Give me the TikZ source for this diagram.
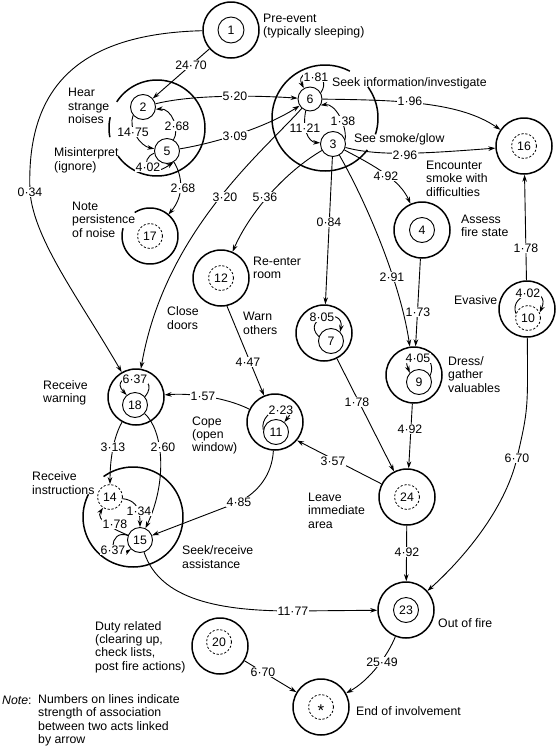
\documentclass[tikz,border=0pt]{standalone}
\usepackage{fontspec}
\setmainfont{Liberation Sans}
\usetikzlibrary{arrows.meta}
\newcommand\lab{\fontsize{12.3}{13.4}\selectfont}
\begin{document}
\begin{tikzpicture}[x=1pt,y=-1pt,
  outer/.style={circle,draw,line width=1.5pt,minimum size=56pt,inner sep=0pt},
  ghost/.style={circle,minimum size=56pt,inner sep=0pt},
  inner/.style={circle,draw,line width=0.9pt,minimum size=25pt,inner sep=0pt,font=\lab},
  dinner/.style={inner,dash pattern=on 2.2pt off 1.8pt,line width=0.8pt},
  edge/.style={line width=0.9pt,-{Stealth[length=7pt,width=4.6pt]}},
  bigarc/.style={line width=1.5pt},
  num/.style={fill=white,inner sep=1pt,font=\lab},
  txt/.style={align=left,anchor=west,inner sep=0pt,font=\lab}]
\useasboundingbox (0,0) rectangle (557,747);

% ---------- circles ----------
\node[outer] (n1o) at (231,30) {};
\node[inner,minimum size=26pt] (n1) at (231,30) {1};
\node[inner] (n2) at (143,107) {2};
\node[inner] (n5) at (167,151) {5};
\node[inner,minimum size=24pt] (n6) at (310,99) {6};
\node[inner] (n3) at (333,144) {3};
\node[outer] (n16o) at (524,146) {};
\node[dinner] (n16) at (524,146) {16};
\node[outer] (n4o) at (422,230) {};
\node[inner] (n4) at (422,230) {4};
\node[ghost] (n17o) at (150,236) {};
\node[dinner] (n17) at (150,236) {17};
\node[outer] (n12o) at (221,278) {};
\node[dinner] (n12) at (221,278) {12};
\node[outer] (n7o) at (324,333) {};
\node[inner] (n7) at (331,341) {7};
\node[outer] (n10o) at (527,309) {};
\node[dinner] (n10) at (528,318) {10};
\node[outer] (n9o) at (414,375) {};
\node[inner] (n9) at (419,382) {9};
\node[outer] (n18o) at (136,397) {};
\node[inner] (n18) at (135,405) {18};
\node[outer] (n11o) at (275,422) {};
\node[inner] (n11) at (276,432) {11};
\node[outer] (n24o) at (407,497) {};
\node[dinner] (n24) at (407,497) {24};
\node[dinner] (n14) at (110,497) {14};
\node[inner] (n15) at (140,540) {15};
\node[outer] (n23o) at (406,610) {};
\node[inner] (n23) at (406,610) {23};
\node[outer] (n20o) at (220,646) {};
\node[dinner] (n20) at (219,642) {20};
\node[outer] (nEo) at (321,707) {};
\node[dinner] (nE) at (321,707) {};
\node[font=\fontsize{17}{17}\selectfont,inner sep=0pt,anchor=base] (ast) at (321,716.8) {*};

% ---------- partial big circles ----------
\draw[bigarc] plot[domain=213:504,samples=90,variable=\t] ({157+48*cos(\t)},{128+48*sin(\t)});
\draw[bigarc] plot[domain=169:193,samples=10,variable=\t] ({157+48*cos(\t)},{128+48*sin(\t)});
\draw[bigarc] plot[domain=37:298,samples=90,variable=\t] ({325+53*cos(\t)},{118+53*sin(\t)});
\draw[bigarc] plot[domain=324:378,samples=20,variable=\t] ({325+53*cos(\t)},{118+53*sin(\t)});
\draw[bigarc] plot[domain=237:556,samples=90,variable=\t] ({150+28*cos(\t)},{236+28*sin(\t)});
\draw[bigarc] plot[domain=234:567,samples=100,variable=\t] ({133+50*cos(\t)},{517+50*sin(\t)});

% ---------- connectors ----------
\draw[edge] (n1o) -- (n2);
\draw[edge] (n1o) .. controls (70,34) and (26,95) .. (30,192) .. controls (34,240) and (80,300) .. (n18o);
\draw[edge] (n2) .. controls (190,95) and (250,95) .. (n6);
\draw[edge] (n5) .. controls (215,143) and (265,128) .. (n6);
\draw[edge] (n2.220) .. controls (128,128) and (140,146) .. (n5.170);
\draw[edge] (n5.60) .. controls (180,130) and (172,108) .. (n2.-10);
\draw[edge] (n5.190) .. controls (140,158) and (145,182) .. (n5.-60);
\draw[edge] (n5) .. controls (182,175) and (185,195) .. (n17o);
\draw[edge] (n6.30) .. controls (335,72) and (293,66) .. (n6.120);
\draw[edge] (n6.250) .. controls (302,128) and (308,142) .. (n3.175);
\draw[edge] (n3.20) .. controls (347,125) and (335,103) .. (n6.-30);
\draw[edge] (n6) .. controls (400,100) and (460,102) .. (n16o);
\draw[edge] (n3) .. controls (380,157) and (430,153) .. (n16o);
\draw[edge] (n3) .. controls (375,166) and (400,180) .. (n4o);
\draw[edge] (n3) .. controls (285,172) and (250,212) .. (n12o);
\draw[edge] (n6) .. controls (265,150) and (165,230) .. (n18o);
\draw[edge] (n3) -- (n7o);
\draw[edge] (n3) .. controls (365,200) and (400,280) .. (n9o);
\draw[edge] (n4o) -- (n9o);
\draw[edge] (n10o) -- (n16o);
\draw[edge] (n10.160) .. controls (508,292) and (552,285) .. (n10.25);
\draw[edge] (n10o) .. controls (528,410) .. (517,458) .. controls (505,510) and (462,560) .. (n23o);
\draw[edge] (n7.160) .. controls (300,318) and (345,306) .. (n7.45);
\draw[edge] (n9.30) .. controls (440,352) and (398,345) .. (n9.135);
\draw[edge] (n12o.-78) -- (n11o);
\draw[edge] (n18.40) .. controls (165,372) and (105,372) .. (n18.130);
\draw[edge] (n11o) .. controls (225,397) and (190,393) .. (n18o);
\draw[edge] (n11.170) .. controls (258,408) and (306,395) .. (n11.50);
\draw[edge] (n7o) -- (n24o);
\draw[edge] (n9o) -- (n24o);
\draw[edge] (n24o) -- (n11o.-40);
\draw[edge] (n11o) .. controls (272,475) and (258,492) .. (239,502) -- (n15);
\draw[edge] (n18o) .. controls (112,440) and (110,465) .. (n14);
\draw[edge] (n18) .. controls (163,430) and (168,480) .. (n15);
\draw[edge] (n14) .. controls (133,500) and (140,505) .. (n15);
\draw[edge] (n15) .. controls (115,530) and (95,520) .. (n14);
\draw[edge] (n15) .. controls (108,528) and (108,565) .. (n15.south west);
\draw[edge] (n24o) -- (n23o);
\draw[edge] (n15) .. controls (160,600) and (220,611) .. (293,611) -- (n23o);
\draw[edge] (n23o) .. controls (388,655) and (370,680) .. (nEo);
\draw[edge] (n20o) -- (nEo);

% ---------- connector labels ----------
\node[num] (w1) at (191,65) {24·70};
\node[num] (w2) at (235,96) {5·20};
\node[num] (w3) at (133,132) {14·75};
\node[num] (w4) at (177,126) {2·68};
\node[num] (w5) at (235,136) {3·09};
\node[num] (w6) at (148,167) {4·02};
\node[num] (w7) at (183,188) {2·68};
\node[num] (w8) at (30,192) {0·34};
\node[num] (w9) at (225,197) {3·20};
\node[num] (w10) at (265,197) {5·36};
\node[num] (w11) at (316,77) {1·81};
\node[num] (w12) at (410,101) {1·96};
\node[num] (w13) at (305,128) {11·21};
\node[num] (w14) at (343,121) {1·38};
\node[num] (w15) at (405,155) {2·96};
\node[num] (w16) at (386,176) {4·92};
\node[num] (w17) at (329,222) {0·84};
\node[num] (w18) at (526,248) {1·78};
\node[num] (w19) at (392,277) {2·91};
\node[num] (w20) at (528,293) {4·02};
\node[num] (w21) at (418,312) {1·73};
\node[num] (w22) at (322,317) {8·05};
\node[num] (w23) at (418,358) {4·05};
\node[num] (w24) at (248,362) {4·47};
\node[num] (w25) at (135,379) {6·37};
\node[num] (w26) at (203,396) {1·57};
\node[num] (w27) at (357,402) {1·78};
\node[num] (w28) at (281,410) {2·23};
\node[num] (w29) at (410,429) {4·92};
\node[num] (w30) at (113,447) {3·13};
\node[num] (w31) at (163,447) {2·60};
\node[num] (w32) at (517,458) {6·70};
\node[num] (w33) at (333,461) {3·57};
\node[num] (w34) at (239,502) {4·85};
\node[num] (w35) at (139,511) {1·34};
\node[num] (w36) at (115,524) {1·78};
\node[num] (w37) at (113,550) {6·37};
\node[num] (w38) at (407,552) {4·92};
\node[num] (w39) at (293,611) {11·77};
\node[num] (w40) at (382,662) {25·49};
\node[num] (w41) at (263,672) {6·70};

% ---------- texts ----------
\node[txt] (t1) at (263,26) {Pre-event\\(typically sleeping)};
\node[txt] (t2) at (68,106) {Hear\\strange\\noises};
\node[txt] (t3) at (54,160.5) {Misinterpret\\(ignore)};
\node[txt] (t4) at (72,219.5) {Note\\persistence\\of noise};
\node[txt] (t5) at (332,83) {Seek information/investigate};
\node[txt] (t6) at (354,139) {See smoke/glow};
\node[txt] (t7) at (426,178.5) {Encounter\\smoke with\\difficulties};
\node[txt] (t8) at (461,226) {Assess\\fire state};
\node[txt] (t9) at (253,268) {Re-enter\\room};
\node[txt] (t10) at (167,318) {Close\\doors};
\node[txt] (t11) at (243,323.5) {Warn\\others};
\node[txt] (t12) at (454,300) {Evasive};
\node[txt] (t13) at (448,374.5) {Dress/\\gather\\valuables};
\node[txt] (t14) at (43,393) {Receive\\warning};
\node[txt] (t15) at (192,435.5) {Cope\\(open\\window)};
\node[txt] (t16) at (32,483) {Receive\\instructions};
\node[txt] (t17) at (308,510.5) {Leave\\immediate\\area};
\node[txt] (t18) at (182,557) {Seek/receive\\assistance};
\node[txt] (t19) at (438,623) {Out of fire};
\node[txt] (t20) at (95,647) {Duty related\\(clearing up,\\check lists,\\post fire actions)};
\node[txt] (t21) at (356,711) {End of involvement};
\node[txt] (t22) at (2,700) {\textit{Note}:};
\node[txt] (t23) at (38,720.5) {Numbers on lines indicate\\strength of association\\between two acts linked\\by arrow};
\end{tikzpicture}
\end{document}
